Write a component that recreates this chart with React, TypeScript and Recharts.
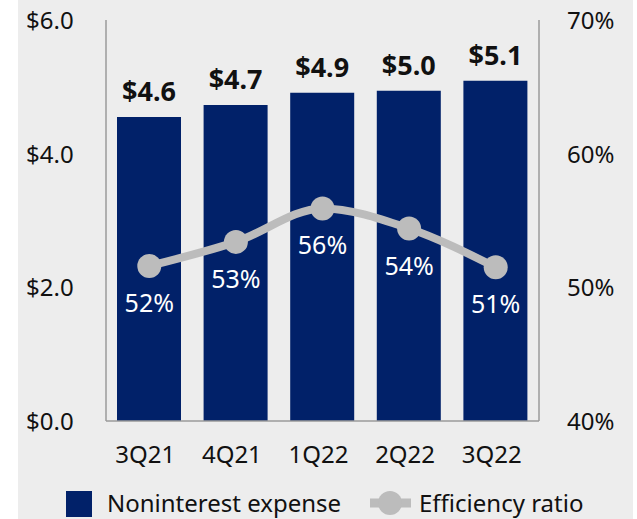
import React from "react";
import { ComposedChart, Bar, Line, XAxis, YAxis, LabelList, Legend } from "recharts";

const quarters = ["3Q21", "4Q21", "1Q22", "2Q22", "3Q22"];
const expense = [4.55, 4.73, 4.91, 4.94, 5.09];
const expenseLabels = ["$4.6", "$4.7", "$4.9", "$5.0", "$5.1"];
const efficiency = [51.6, 53.4, 55.9, 54.4, 51.5];
const efficiencyLabels = ["52%", "53%", "56%", "54%", "51%"];
const leftTicks = [0, 2, 4, 6];
const rightTicks = [40, 50, 60, 70];

const data = quarters.map((q, i) => ({
  q,
  expense: expense[i],
  expenseLabel: expenseLabels[i],
  efficiency: efficiency[i],
  efficiencyLabel: efficiencyLabels[i],
}));

const FONT = "'Noto Sans', sans-serif";
const NAVY = "#012169";
const GRAY = "#bcbcbc";

const BarLabel = (props: any) => {
  const { x, y, width, value } = props;
  return (
    <text x={x + width / 2} y={y - 16} textAnchor="middle" fontFamily={FONT} fontSize={27} fontWeight={700} fill="#111">
      {value}
    </text>
  );
};

const LineLabel = (props: any) => {
  const { x, y, value } = props;
  return (
    <text x={x} y={y + 46} textAnchor="middle" fontFamily={FONT} fontSize={25} fill="#ffffff">
      {value}
    </text>
  );
};

const LeftTick = (props: any) => {
  const { y, payload } = props;
  return (
    <text x={26} y={y + 9} textAnchor="start" fontFamily={FONT} fontSize={24} fill="#111">
      {"$" + payload.value.toFixed(1)}
    </text>
  );
};

const RightTick = (props: any) => {
  const { y, payload } = props;
  return (
    <text x={567} y={y + 9} textAnchor="start" fontFamily={FONT} fontSize={24} fill="#111">
      {payload.value + "%"}
    </text>
  );
};

const XTick = (props: any) => {
  const { x, y, payload } = props;
  return (
    <text x={x - 4} y={y + 34} textAnchor="middle" fontFamily={FONT} fontSize={24} fill="#111">
      {payload.value}
    </text>
  );
};

const LegendContent = () => (
  <svg width={637} height={40} style={{ display: "block" }}>
    <rect x={66} y={12} width={26} height={26} fill={NAVY} />
    <text x={107} y={33} fontFamily={FONT} fontSize={24} fill="#111">Noninterest expense</text>
    <line x1={370} y1={24} x2={411} y2={24} stroke={GRAY} strokeWidth={9} />
    <circle cx={390} cy={24} r={12} fill={GRAY} />
    <text x={419} y={33} fontFamily={FONT} fontSize={24} fill="#111">Efficiency ratio</text>
  </svg>
);

export default function App() {
  return (
    <div style={{ position: "absolute", left: 0, top: 0, width: 637, height: 519, background: "#ffffff", overflow: "hidden" }}>
      <div style={{ position: "absolute", left: 18, top: 0, width: 615, height: 519, background: "#ededed" }} />
      <div style={{ position: "absolute", left: 0, top: 0 }}>
        <ComposedChart width={637} height={519} data={data} margin={{ top: 20, right: 0, bottom: 0, left: 0 }} barCategoryGap={0}>
          <XAxis dataKey="q" height={58} axisLine={{ stroke: "#9a9a9a", strokeWidth: 1.5 }} tickLine={false} tick={<XTick />} interval={0} />
          <YAxis yAxisId="left" width={106} domain={[0, 6]} ticks={leftTicks} axisLine={{ stroke: "#9a9a9a", strokeWidth: 1.5 }} tickLine={false} tick={<LeftTick />} />
          <YAxis yAxisId="right" orientation="right" width={98} domain={[40, 70]} ticks={rightTicks} axisLine={{ stroke: "#9a9a9a", strokeWidth: 1.5 }} tickLine={false} tick={<RightTick />} />
          <Bar yAxisId="left" dataKey="expense" fill={NAVY} barSize={64} isAnimationActive={false}>
            <LabelList dataKey="expenseLabel" content={<BarLabel />} />
          </Bar>
          <Line yAxisId="right" dataKey="efficiency" type="monotone" stroke={GRAY} strokeWidth={8} dot={{ r: 12, fill: GRAY, stroke: "none" }} activeDot={false} isAnimationActive={false}>
            <LabelList dataKey="efficiencyLabel" content={<LineLabel />} />
          </Line>
          <Legend verticalAlign="bottom" content={<LegendContent />} wrapperStyle={{ left: 0, bottom: 0, width: 637, height: 40 }} />
        </ComposedChart>
      </div>
    </div>
  );
}
